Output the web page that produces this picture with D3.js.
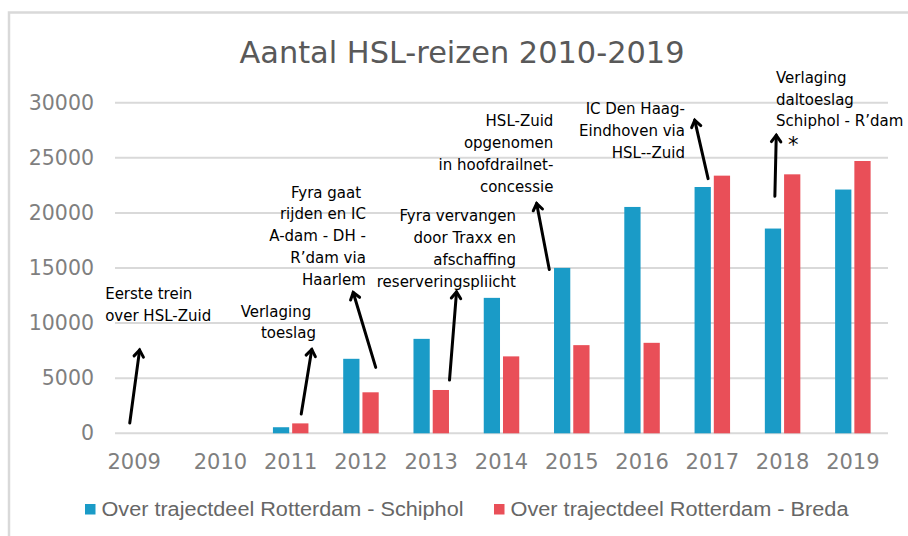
<!DOCTYPE html>
<html>
<head>
<meta charset="utf-8">
<script src="https://cdn.jsdelivr.net/npm/d3@7"></script>
<style>
  body { margin: 0; background: #fff; }
  svg { display: block; }
</style>
</head>
<body>
<div class="home"></div>
<script>
// data
const years = ["2009", "2010", "2011", "2012", "2013", "2014", "2015", "2016", "2017", "2018", "2019"];
const seriesNames = ["Over trajectdeel Rotterdam - Schiphol", "Over trajectdeel Rotterdam - Breda"];
const schiphol = [0, 0, 550, 6760, 8570, 12290, 15010, 20540, 22350, 18580, 22120];
const breda = [0, 0, 900, 3720, 3930, 6980, 8000, 8210, 23380, 23500, 24710];
const yTicks = [0, 5000, 10000, 15000, 20000, 25000, 30000];
const colors = ["#1a9bc7", "#e94f58"];

// annotations: text in data space (year + fraction of band, value), arrows tail -> head
const notes = [
  { year: "2009", f: -0.14, v: 12145, anchor: "start", lines: ["Eerste trein", "over HSL-Zuid"] },
  { year: "2011", f: 0.86, v: 10590, anchor: "end", lines: ["Verlaging ", "toeslag"] },
  { year: "2012", f: 0.57, v: 21390, anchor: "end", lines: ["Fyra gaat ", "rijden en IC", "A-dam - DH -", "R\u2019dam via", "Haarlem"] },
  { year: "2013", f: 1.706, v: 19240, anchor: "end", lines: ["Fyra vervangen", "door Traxx en", "afschaffing", "reserveringspliicht"] },
  { year: "2015", f: 0.238, v: 27850, anchor: "end", lines: ["HSL-Zuid", "opgenomen", "in hoofdrailnet-", "concessie"] },
  { year: "2017", f: 0.111, v: 28940, anchor: "end", lines: ["IC Den Haag-", "Eindhoven via", "HSL--Zuid"] },
  { year: "2018", f: 0.406, v: 31810, anchor: "start", lines: ["Verlaging", "daltoeslag", "Schiphol - R\u2019dam"] }
];
const arrows = [
  { year: "2009", f0: 0.21, v0: 930, f1: 0.35, v1: 7550 },
  { year: "2011", f0: 0.65, v0: 1750, f1: 0.80, v1: 7610 },
  { year: "2012", f0: 0.71, v0: 5980, f1: 0.39, v1: 12780 },
  { year: "2013", f0: 0.76, v0: 4830, f1: 0.86, v1: 12830 },
  { year: "2015", f0: 0.18, v0: 14860, f1: 0.00, v1: 20850 },
  { year: "2017", f0: 0.44, v0: 23110, f1: 0.25, v1: 28400 },
  { year: "2018", f0: 0.39, v0: 21510, f1: 0.41, v1: 27040 }
];

const width = 908;
const height = 536;
const font = "'DejaVu Sans', sans-serif";

const svg = d3.select(".home").append("svg")
  .attr("width", width)
  .attr("height", height);

// chart frame
svg.append("rect")
  .attr("x", 9).attr("y", 12.5)
  .attr("width", width + 10).attr("height", height + 10)
  .attr("fill", "none")
  .attr("stroke", "#d9d9d9")
  .attr("stroke-width", 2.5);

const x0 = d3.scaleBand().domain(years).range([115, 888]).padding(0);
const x1 = d3.scaleBand().domain([0, 1]).range([0, 35.5]).paddingInner(0.155);
const y = d3.scaleLinear().domain([0, 30000]).range([433.3, 102.7]);
const bw = x0.bandwidth();
const gx = d => x0(d) + (bw - 35.5) / 2;
const px = (yr, f) => x0(yr) + f * bw;

// title
svg.append("text")
  .attr("x", 462).attr("y", 63)
  .attr("text-anchor", "middle")
  .attr("textLength", 445)
  .attr("lengthAdjust", "spacingAndGlyphs")
  .style("font-family", font)
  .style("font-size", "31px")
  .style("fill", "#595959")
  .text("Aantal HSL-reizen 2010-2019");

// gridlines
svg.append("g")
  .selectAll("line")
  .data(yTicks)
  .enter().append("line")
  .attr("x1", 115).attr("x2", 888)
  .attr("y1", d => y(d)).attr("y2", d => y(d))
  .attr("stroke", "#d9d9d9")
  .attr("stroke-width", 2);

// y axis labels
const yAxis = svg.append("g")
  .attr("transform", "translate(94,0)")
  .call(d3.axisLeft(y).tickValues(yTicks).tickSize(0).tickPadding(0).tickFormat(d3.format("d")));
yAxis.select(".domain").remove();
yAxis.selectAll("text")
  .style("font-family", font)
  .style("font-size", "20.5px")
  .style("fill", "#7f7f7f");

// x axis labels
const xAxis = svg.append("g")
  .attr("transform", "translate(0,453)")
  .call(d3.axisBottom(x0).tickSize(0).tickPadding(0));
xAxis.select(".domain").remove();
xAxis.selectAll("text")
  .attr("dy", "0.75em")
  .attr("dx", d => d === "2009" ? -16 : 0)
  .style("font-family", font)
  .style("font-size", "21px")
  .style("fill", "#7f7f7f");

// bars
const rows = years.map((yr, i) => ({ year: yr, vals: [schiphol[i], breda[i]] }));
const groups = svg.append("g")
  .selectAll("g")
  .data(rows)
  .enter().append("g")
  .attr("transform", d => "translate(" + gx(d.year) + ",0)");
groups.selectAll("rect")
  .data(d => d.vals.map((v, k) => ({ k: k, v: v })))
  .enter().append("rect")
  .attr("x", d => x1(d.k))
  .attr("width", x1.bandwidth())
  .attr("y", d => y(d.v))
  .attr("height", d => y(0) - y(d.v))
  .attr("fill", d => colors[d.k]);

// annotation texts
const lh = 21.8;
notes.forEach(n => {
  const t = svg.append("text")
    .attr("x", px(n.year, n.f))
    .attr("y", y(n.v))
    .attr("text-anchor", n.anchor)
    .style("font-family", font)
    .style("font-size", "15px")
    .style("fill", "#000");
  t.selectAll("tspan")
    .data(n.lines)
    .enter().append("tspan")
    .attr("x", px(n.year, n.f))
    .attr("dy", (d, i) => i === 0 ? 0 : lh)
    .text(d => d);
});

svg.append("text")
  .attr("x", px("2018", 0.576))
  .attr("y", y(25500))
  .style("font-family", font)
  .style("font-size", "21px")
  .style("fill", "#000")
  .text("*");

// arrows
const ag = svg.append("g")
  .attr("stroke", "#000")
  .attr("stroke-width", 3)
  .attr("stroke-linecap", "round")
  .attr("fill", "none");
arrows.forEach(a => {
  const xa = px(a.year, a.f0), ya = y(a.v0);
  const xb = px(a.year, a.f1), yb = y(a.v1);
  const ang = Math.atan2(yb - ya, xb - xa);
  const L = 8, s = Math.PI / 5;
  ag.append("line").attr("x1", xa).attr("y1", ya).attr("x2", xb).attr("y2", yb);
  ag.append("path").attr("d", d3.line()([
    [xb - L * Math.cos(ang - s), yb - L * Math.sin(ang - s)],
    [xb, yb],
    [xb - L * Math.cos(ang + s), yb - L * Math.sin(ang + s)]
  ]));
});

// legend
const legendX = [85, 494];
const legendW = [362, 338];
const lg = svg.append("g");
seriesNames.forEach((name, i) => {
  lg.append("rect")
    .attr("x", legendX[i]).attr("y", 504)
    .attr("width", 10.5).attr("height", 10.5)
    .attr("fill", colors[i]);
  lg.append("text")
    .attr("x", legendX[i] + 16.5).attr("y", 515.5)
    .attr("textLength", legendW[i])
    .attr("lengthAdjust", "spacingAndGlyphs")
    .style("font-family", "'Liberation Sans', Arial, sans-serif")
    .style("font-size", "19.5px")
    .style("fill", "#666")
    .text(name);
});
</script>
</body>
</html>
